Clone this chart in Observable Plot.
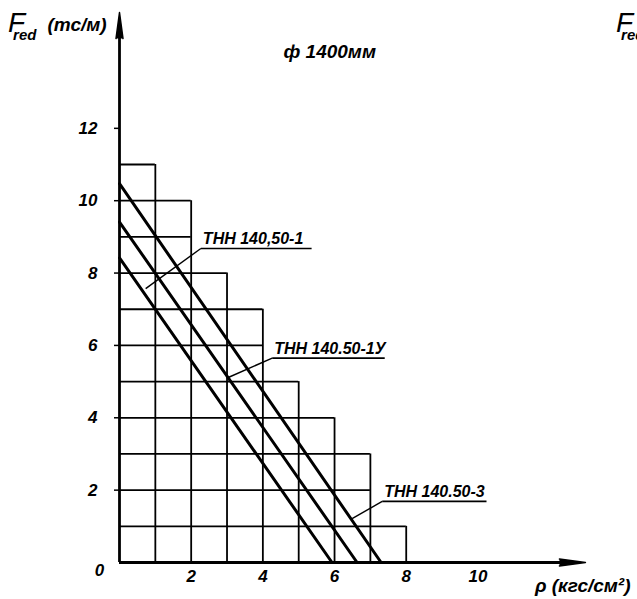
<!DOCTYPE html>
<html><head><meta charset="utf-8">
<script src="https://cdn.jsdelivr.net/npm/d3@7"></script>
<script src="https://cdn.jsdelivr.net/npm/@observablehq/plot@0.6"></script>
<style>
html,body{margin:0;padding:0;background:#fff;}
#chart svg{display:block;}
</style>
</head><body><div id="chart"></div>
<script>
// staircase grid: each unit column [start, start+1] reaches up to its top value
const columnStart = [0, 1, 2, 3, 4, 5, 6, 7];
const columnTop   = [11, 10, 8, 7, 5, 4, 3, 1];

// three characteristic lines: F_red at p = 0, and p where F_red = 0
const seriesNames = ["ТНН 140,50-1", "ТНН 140.50-1У", "ТНН 140.50-3"];
const seriesF0 = [8.42, 9.41, 10.47];
const seriesP0 = [5.93, 6.63, 7.30];

// label leaders (data units): pointer end, shelf start/end, shelf level
const labelPointP  = [0.73, 3.05, 6.49];
const labelPointF  = [7.57, 5.12, 1.21];
const labelShelfP1 = [2.27, 4.26, 7.33];
const labelShelfP2 = [5.36, 7.40, 10.24];
const labelShelfF  = [8.68, 5.65, 1.69];

const yTicks = [2, 4, 6, 8, 10, 12];
const xTicks = [2, 4, 6, 8, 10];
const titleText = "ф 1400мм";
const xTitle = "ρ (кгс/см²)";
const yTitleMain = "F", yTitleSub = "red", yTitleUnit = "(тс/м)";

const FONT = "'Liberation Sans', Arial, sans-serif";

// derived tables
const hLines = d3.range(1, d3.max(columnTop) + 1).map(level => ({
  level,
  end: d3.max(columnStart.filter((s, i) => columnTop[i] >= level), s => s + 1)
}));
const vLines = columnStart.map((s, i) => ({pos: s + 1, top: columnTop[i]}));
const lineData = seriesNames.flatMap((name, i) => [
  {name, p: 0, F: seriesF0[i]},
  {name, p: seriesP0[i], F: 0}
]);
const labels = seriesNames.map((name, i) => ({
  name, px: labelPointP[i], py: labelPointF[i],
  s1: labelShelfP1[i], s2: labelShelfP2[i], sy: labelShelfF[i]
}));

const W = 637, H = 599;
const xMax = 13.0, yMax = 15.2;
const mL = 119, mB = 37;
const mR = W - (mL + xMax * 35.84);
const mT = (H - mB) - yMax * 36.18;

const txt = {fontStyle: "italic", fontWeight: "bold"};

const chart = Plot.plot({
  width: W, height: H,
  marginLeft: mL, marginRight: mR, marginTop: mT, marginBottom: mB,
  style: {fontFamily: FONT, background: "#fff", color: "#000"},
  x: {domain: [0, xMax]},
  y: {domain: [0, yMax]},
  marks: [
    // staircase grid
    Plot.ruleY(hLines, {y: "level", x1: 0, x2: "end", stroke: "#000", strokeWidth: 1.8}),
    Plot.ruleX(vLines, {x: "pos", y1: 0, y2: "top", stroke: "#000", strokeWidth: 1.8}),
    // axes
    Plot.ruleX([0], {y1: 0, y2: yMax - 0.5, stroke: "#000", strokeWidth: 2.8}),
    Plot.ruleY([0], {x1: 0, x2: xMax - 0.5, stroke: "#000", strokeWidth: 2.8}),
    Plot.vector([{x: 0, y: yMax}], {x: "x", y: "y", length: 26, rotate: 0, shape: "spike", r: 3.5, anchor: "end", fill: "#000", stroke: "#000"}),
    Plot.vector([{x: xMax, y: 0}], {x: "x", y: "y", length: 26, rotate: 90, shape: "spike", r: 3.5, anchor: "end", fill: "#000", stroke: "#000"}),
    Plot.axisY({ticks: yTicks, tickSize: 5, tickPadding: 17, fontSize: 17, ...txt, strokeWidth: 1.5, label: null}),
    Plot.axisX({ticks: xTicks, tickSize: 0, tickPadding: 7, fontSize: 17, ...txt, label: null}),
    Plot.text(["0"], {x: 0, y: 0, dx: -20, dy: 8, fontSize: 17, ...txt, textAnchor: "middle", lineAnchor: "middle"}),
    // characteristic lines
    Plot.line(lineData, {x: "p", y: "F", z: "name", stroke: "#000", strokeWidth: 3}),
    // leaders and labels
    Plot.link(labels, {x1: "px", y1: "py", x2: "s1", y2: "sy", stroke: "#000", strokeWidth: 1.4}),
    Plot.link(labels, {x1: "s1", y1: "sy", x2: "s2", y2: "sy", stroke: "#000", strokeWidth: 1.6}),
    Plot.text(labels, {x: "s1", y: "sy", text: "name", dx: 2, dy: -4, textAnchor: "start", lineAnchor: "bottom", fontSize: 16, ...txt}),
    // titles
    Plot.text([titleText], {frameAnchor: "top-left", dx: 164, dy: 57 - mT, textAnchor: "start", lineAnchor: "bottom", fontSize: 19, ...txt}),
    Plot.text([xTitle], {frameAnchor: "bottom-right", dx: mR - 7, dy: mB - 8, textAnchor: "end", lineAnchor: "bottom", fontSize: 19, ...txt})
  ]
});

// y-axis title  F_red (тс/м), plus the neighbouring chart's title cut off at the right edge
const svg = d3.select(chart);
function fTitle(x, y, withUnit) {
  const t = svg.append("text").attr("x", x).attr("y", y).attr("text-anchor", "start")
    .attr("font-family", FONT).attr("font-style", "italic").attr("fill", "#000");
  t.append("tspan").attr("font-size", 28).text(yTitleMain);
  t.append("tspan").attr("font-size", 15).attr("font-weight", "bold").attr("dx", -12).attr("dy", 8).text(yTitleSub);
  if (withUnit) {
    t.append("tspan").attr("font-size", 19).attr("font-weight", "bold").attr("dx", 11).attr("dy", -9).text(yTitleUnit);
  }
}
fTitle(8, 32, true);
fTitle(616, 32, false);

document.getElementById("chart").appendChild(chart);
</script>
</body></html>
